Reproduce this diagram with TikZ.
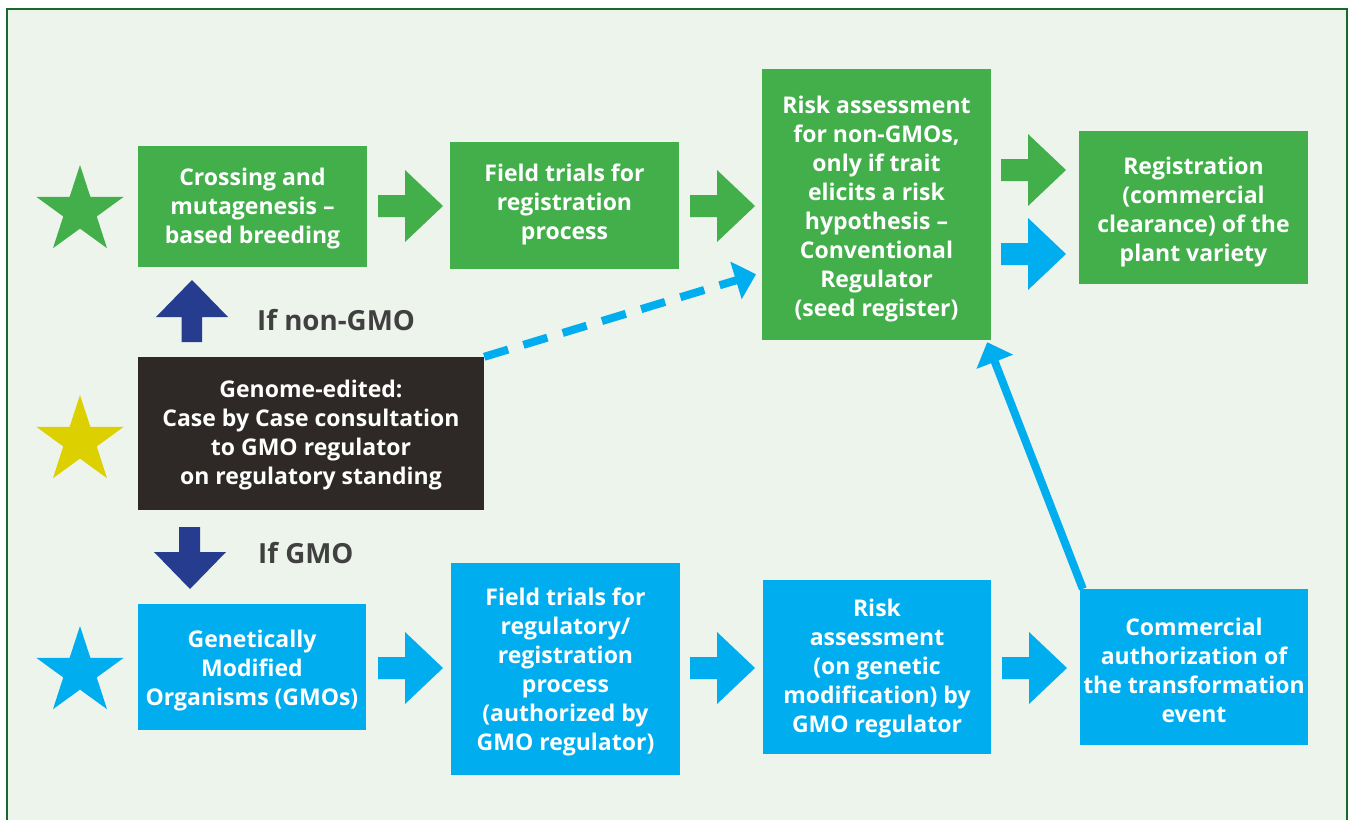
\documentclass[tikz,border=0pt]{standalone}
\usepackage{fontspec}
\setmainfont{Open Sans}
\usetikzlibrary{arrows.meta}
\definecolor{bggreen}{HTML}{EDF4EC}
\definecolor{framegreen}{HTML}{17692E}
\definecolor{boxgreen}{HTML}{42AF4B}
\definecolor{boxblue}{HTML}{00AEEF}
\definecolor{boxdark}{HTML}{2E2926}
\definecolor{navy}{HTML}{253C8F}
\definecolor{staryellow}{HTML}{DDD000}
\definecolor{labelgray}{HTML}{404040}
\tikzset{
  box/.style={inner sep=0pt},
  gbox/.style={box, fill=boxgreen},
  bbox/.style={box, fill=boxblue},
  dbox/.style={box, fill=boxdark},
  txt/.style={inner sep=0pt, align=center, text=white, font=\bfseries\fontsize{23}{29}\selectfont},
  lbl/.style={anchor=west, inner sep=0pt, text=labelgray, font=\bfseries\fontsize{27.7}{32}\selectfont},
  link/.style={boxblue, line width=8pt, -{Triangle[length=21pt,width=38pt]}},
}
\newcommand{\rblock}[3]{% x0, yc, color
  \fill[#3] (#1,#2-11) -- (#1+27,#2-11) -- (#1+27,#2-36) -- (#1+65,#2) -- (#1+27,#2+36) -- (#1+27,#2+11) -- (#1,#2+11) -- cycle;}
\newcommand{\starshape}[3]{% x, y, color
  \fill[#3] (#1,#2) +(-90:46) -- +(-54:17.6) -- +(-18:46) -- +(18:17.6) -- +(54:46) -- +(90:17.6) -- +(126:46) -- +(162:17.6) -- +(198:46) -- +(234:17.6) -- cycle;}
\begin{document}
\begin{tikzpicture}[x=1pt,y=-1pt]
\useasboundingbox (0,0) rectangle (1351,819);
\fill[white] (0,0) rectangle (1351,819);
\begin{scope}
\clip (0,0) rectangle (1351,819);
\draw[framegreen, line width=2.5pt, fill=bggreen] (7,9) rectangle (1347,840);
\end{scope}

% stars
\starshape{80}{211}{boxgreen}
\starshape{80}{441}{staryellow}
\starshape{80}{672}{boxblue}

% boxes
\node[gbox, minimum width=229pt, minimum height=121pt] (B1) at (252.5,206.5) {};
\node[gbox, minimum width=229pt, minimum height=127pt] (B2) at (564.5,205.5) {};
\node[gbox, minimum width=229pt, minimum height=271pt] (B3) at (876.5,204.5) {};
\node[gbox, minimum width=229pt, minimum height=153pt] (B4) at (1193.5,207.5) {};
\node[dbox, minimum width=346pt, minimum height=153pt] (D) at (311,433.5) {};
\node[bbox, minimum width=228pt, minimum height=126pt] (B5) at (252,667) {};
\node[bbox, minimum width=229pt, minimum height=212pt] (B6) at (565.5,669) {};
\node[bbox, minimum width=228pt, minimum height=174pt] (B7) at (877,667) {};
\node[bbox, minimum width=228pt, minimum height=156pt] (B8) at (1194,667) {};

% box texts
\node[txt] (T1) at ([yshift=-2pt]B1.center) {Crossing and\\mutagenesis –\\based breeding};
\node[txt] (T2) at ([yshift=1.5pt]B2.center) {Field trials for\\registration\\process};
\node[txt] (T3) at ([yshift=-4.5pt]B3.center) {Risk assessment\\for non-GMOs,\\only if trait\\elicits a risk\\hypothesis –\\Conventional\\Regulator\\(seed register)};
\node[txt] (T4) at ([yshift=-4.5pt]B4.center) {Registration\\(commercial\\clearance) of the\\plant variety};
\node[txt] (TD) at ([yshift=-2pt]D.center) {Genome-edited:\\Case by Case consultation\\to GMO regulator\\on regulatory standing};
\node[txt] (T5) at ([yshift=-3.5pt]B5.center) {Genetically\\Modified\\Organisms (GMOs)};
\node[txt] (T6) at ([yshift=-2.5pt]B6.center) {Field trials for\\regulatory/\\registration\\process\\(authorized by\\GMO regulator)};
\node[txt] (T7) at ([yshift=-2pt]B7.center) {Risk\\assessment\\(on genetic\\modification) by\\GMO regulator};
\node[txt] (T8) at ([yshift=-3.5pt]B8.center) {Commercial\\authorization of\\the transformation\\event};

% labels
\node[lbl] (L1) at (257,320) {If non-GMO};
\node[lbl] (L2) at (258,553) {If GMO};

% navy arrows
\fill[navy] (192,280) -- (228,317) -- (202,317) -- (202,342) -- (181.5,342) -- (181.5,317) -- (156,317) -- cycle;
\fill[navy] (179,527) -- (200,527) -- (200,552) -- (226,552) -- (190,589) -- (154,552) -- (179,552) -- cycle;

% block arrows
\rblock{378}{206}{boxgreen}
\rblock{690}{206}{boxgreen}
\rblock{1001}{170}{boxgreen}
\rblock{1001}{254}{boxblue}
\rblock{378}{668}{boxblue}
\rblock{690}{668}{boxblue}
\rblock{1002}{668}{boxblue}

% connectors
\draw[link, dash pattern=on 25pt off 16pt, shorten >=6pt] (D.north east) -- ([yshift=-68pt]B3.west);
\draw[link] ([xshift=3pt]B8.north west) -- ([xshift=-4pt,yshift=-2pt]B3.south east);
\end{tikzpicture}
\end{document}
